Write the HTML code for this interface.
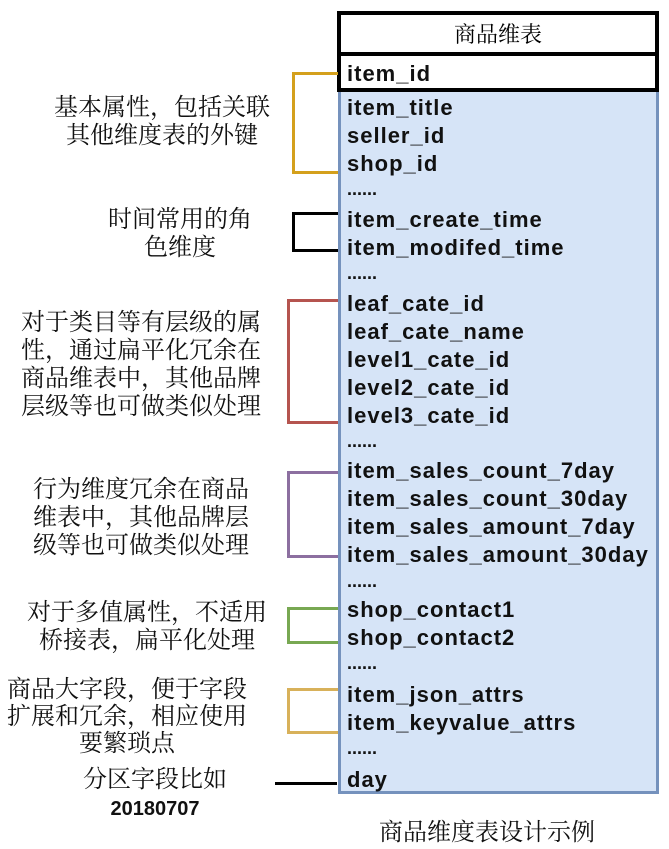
<!DOCTYPE html>
<html><head><meta charset="utf-8"><style>
body{margin:0;width:669px;height:849px;background:#fff;position:relative;overflow:hidden}
.a{position:absolute}
.f{position:absolute;left:347px;font:bold 22px "Liberation Sans",sans-serif;letter-spacing:1px;color:#111;line-height:20px;white-space:nowrap}
.d{position:absolute;left:347px;font:bold 18px "Liberation Sans",sans-serif;color:#111;line-height:14px}
.t{position:absolute;font:24px "Liberation Serif","Noto Serif CJK SC",serif;color:#111;line-height:28px;text-align:center;white-space:nowrap}
.b{position:absolute;border:3px solid;border-right:none}
</style></head><body>
<div class="a" style="left:338px;top:92px;width:315px;height:699px;background:#d6e4f7;border:3px solid #7592bd;border-top:none"></div>
<div class="a" style="left:337px;top:56px;width:314px;height:32px;border:4px solid #000;border-top:none;background:#fff"></div>
<div class="a" style="left:337px;top:11px;width:314px;height:37px;border:4px solid #000;background:#fff;font:22px 'Liberation Serif','Noto Serif CJK SC',serif;text-align:center;line-height:40px">商品维表</div>
<div class="f" style="top:64px">item_id</div>
<div class="f" style="top:98px">item_title</div>
<div class="f" style="top:126px">seller_id</div>
<div class="f" style="top:154px">shop_id</div>
<div class="d" style="top:182px">......</div>
<div class="f" style="top:210px">item_create_time</div>
<div class="f" style="top:238px">item_modifed_time</div>
<div class="d" style="top:266px">......</div>
<div class="f" style="top:294px">leaf_cate_id</div>
<div class="f" style="top:322px">leaf_cate_name</div>
<div class="f" style="top:350px">level1_cate_id</div>
<div class="f" style="top:378px">level2_cate_id</div>
<div class="f" style="top:406px">level3_cate_id</div>
<div class="d" style="top:434px">......</div>
<div class="f" style="top:461px">item_sales_count_7day</div>
<div class="f" style="top:489px">item_sales_count_30day</div>
<div class="f" style="top:517px">item_sales_amount_7day</div>
<div class="f" style="top:545px">item_sales_amount_30day</div>
<div class="d" style="top:574px">......</div>
<div class="f" style="top:600px">shop_contact1</div>
<div class="f" style="top:628px">shop_contact2</div>
<div class="d" style="top:656px">......</div>
<div class="f" style="top:685px">item_json_attrs</div>
<div class="f" style="top:713px">item_keyvalue_attrs</div>
<div class="d" style="top:741px">......</div>
<div class="f" style="top:770px">day</div>

<div class="b" style="left:292px;top:72px;width:43px;height:96px;border-color:#d4a01c"></div>
<div class="b" style="left:292px;top:212px;width:43px;height:34px;border-color:#000"></div>
<div class="b" style="left:287px;top:299px;width:48px;height:119px;border-color:#b5544f"></div>
<div class="b" style="left:287px;top:471px;width:48px;height:81px;border-color:#8c6fa0"></div>
<div class="b" style="left:287px;top:607px;width:48px;height:31px;border-color:#78a852"></div>
<div class="b" style="left:287px;top:688px;width:48px;height:40px;border-color:#d8b15a"></div>
<div class="a" style="left:275px;top:782px;width:62px;height:3px;background:#000"></div>

<div class="t" style="left:22px;width:280px;top:94px">基本属性，包括关联<br>其他维度表的外键</div>
<div class="t" style="left:60px;width:240px;top:206px">时间常用的角<br>色维度</div>
<div class="t" style="left:6px;width:270px;top:309px">对于类目等有层级的属<br>性，通过扁平化冗余在<br>商品维表中，其他品牌<br>层级等也可做类似处理</div>
<div class="t" style="left:6px;width:270px;top:476px">行为维度冗余在商品<br>维表中，其他品牌层<br>级等也可做类似处理</div>
<div class="t" style="left:7px;width:280px;top:599px">对于多值属性，不适用<br>桥接表，扁平化处理</div>
<div class="t" style="left:-1px;width:256px;top:677px;line-height:27px">商品大字段，便于字段<br>扩展和冗余，相应使用<br>要繁琐点</div>
<div class="t" style="left:25px;width:260px;top:766px">分区字段比如<br><b style="font-family:'Liberation Sans',sans-serif;font-size:20px">20180707</b></div>
<div class="t" style="left:337px;width:300px;top:819px">商品维度表设计示例</div>
</body></html>
